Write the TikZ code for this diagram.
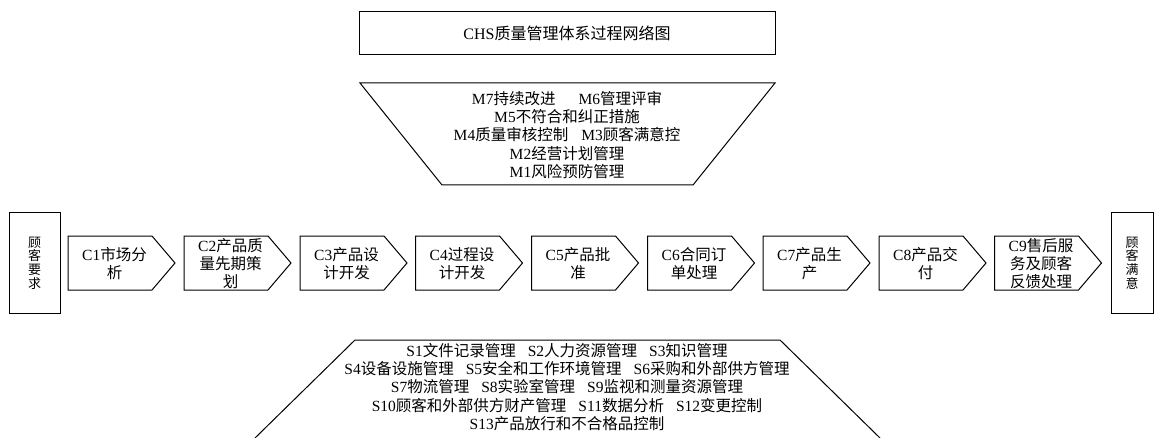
\documentclass[tikz,border=0pt]{standalone}
\usepackage{fontspec}
\setmainfont{Noto Sans CJK SC}
\newfontfamily\latfont{Liberation Serif}
\newcommand\lt[1]{{\latfont #1}}
\begin{document}
\begin{tikzpicture}[x=1pt,y=-1pt,
  outline/.style={draw=black,line width=1pt},
  txt/.style={inner sep=0pt,align=center,font=\fontsize{15.5}{18.3}\selectfont},
  vtxt/.style={inner sep=0pt,align=center,font=\fontsize{13}{13.6}\selectfont},
]
\useasboundingbox (0,0) rectangle (1155,438);

% title
\node[outline,minimum width=416pt,minimum height=43pt,inner sep=0pt,
      font=\fontsize{16}{18}\selectfont] (title) at (567,33.5) {\lt{CHS}质量管理体系过程网络图};

% management trapezoid
\draw[outline] (360,83) -- (775,83) -- (693,185) -- (442,185) -- cycle;
\node[txt] (mtext) at (567,135) {\lt{M7}持续改进\hspace{23pt}\lt{M6}管理评审\\
  \lt{M5}不符合和纠正措施\\
  \lt{M4}质量审核控制\hspace{13pt}\lt{M3}顾客满意控\\
  \lt{M2}经营计划管理\\
  \lt{M1}风险预防管理};

% customer boxes
\node[outline,minimum width=51pt,minimum height=100pt,inner sep=0pt,vtxt] (req) at (34.5,263) {顾\\客\\要\\求};
\node[outline,minimum width=42pt,minimum height=100pt,inner sep=0pt,vtxt] (sat) at (1132,263) {顾\\客\\满\\意};

% process chevrons
\foreach \i/\x/\t in {
  1/68/{\lt{C1}市场分\\析},
  2/184/{\lt{C2}产品质\\量先期策\\划},
  3/300/{\lt{C3}产品设\\计开发},
  4/415.5/{\lt{C4}过程设\\计开发},
  5/531.5/{\lt{C5}产品批\\准},
  6/647.5/{\lt{C6}合同订\\单处理},
  7/763/{\lt{C7}产品生\\产},
  8/879/{\lt{C8}产品交\\付},
  9/994.5/{\lt{C9}售后服\\务及顾客\\反馈处理}} {
  \draw[outline] (\x,236) -- (\x+84,236) -- (\x+107,263) -- (\x+84,290) -- (\x,290) -- cycle;
  \node[txt] (c\i) at (\x+46.5,263.5) {\t};
}

% support trapezoid
\draw[outline] (255,438) -- (355,340) -- (780,340) -- (880,438);
\node[txt] (stext) at (567,387) {\lt{S1}文件记录管理\hspace{12pt}\lt{S2}人力资源管理\hspace{12pt}\lt{S3}知识管理\\
  \lt{S4}设备设施管理\hspace{12pt}\lt{S5}安全和工作环境管理\hspace{12pt}\lt{S6}采购和外部供方管理\\
  \lt{S7}物流管理\hspace{12pt}\lt{S8}实验室管理\hspace{12pt}\lt{S9}监视和测量资源管理\\
  \lt{S10}顾客和外部供方财产管理\hspace{12pt}\lt{S11}数据分析\hspace{12pt}\lt{S12}变更控制\\
  \lt{S13}产品放行和不合格品控制};
\end{tikzpicture}
\end{document}
